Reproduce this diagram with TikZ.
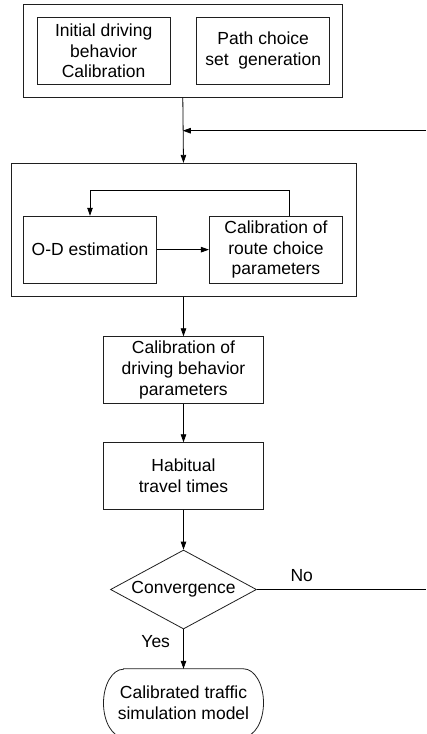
\documentclass[tikz,border=0pt]{standalone}
\usepackage{fontspec}
\setmainfont{Liberation Sans}
\usetikzlibrary{arrows.meta,shapes.geometric,calc}

\begin{document}
\begin{tikzpicture}[x=1pt,y=-1pt,
  every node/.style={font=\fontsize{17.5}{20.8}\selectfont},
  line/.style={draw=black!88, line width=0.8pt},
  box/.style={line, inner sep=0pt, align=center},
  sbox/.style={box, minimum width=133.3pt, minimum height=67pt},
  pbox/.style={box, minimum width=159.3pt, minimum height=66.6pt},
  arr/.style={line width=0.8pt, draw=black, -{Triangle[length=8pt,width=5.5pt]}},
  lbl/.style={inner sep=0pt}
]
\useasboundingbox (0,0) rectangle (426,734);

% preparation stage
\node[box, minimum width=319pt, minimum height=93.3pt] (top) at (182.8,50.65) {};
\node[sbox] (init) at (103.65,50.8) {Initial driving\\behavior\\Calibration};
\node[sbox] (path) at (263.2,50.8) {Path choice\\set\ \ generation};

% demand / route choice loop
\node[box, minimum width=345pt, minimum height=133.4pt] (loop) at (183.5,230) {};
\node[sbox] (od) at (90,249.65) {O-D estimation};
\node[sbox] (rc) at (276,249.65) {Calibration of\\route choice\\parameters};

% driving behaviour and travel times
\node[pbox] (drv) at (183.5,370) {Calibration of\\driving behavior\\parameters};
\node[pbox] (hab) at (183.5,476) {Habitual\\travel times};

% convergence test
\node[shape=diamond, line, inner sep=0pt, aspect=1.85,
      minimum width=146pt, minimum height=79pt] (dia) at (183.5,589.5) {Convergence};

% final model (rounded terminal)
\node[inner sep=0pt, align=center, minimum width=159.6pt, minimum height=68pt]
  (term) at (183.5,703) {Calibrated traffic\\simulation model};
\draw[line] ([xshift=20pt]term.north west) -- ([xshift=-20pt]term.north east)
  arc[start angle=90, end angle=-90, x radius=20pt, y radius=34pt]
  -- ([xshift=20pt]term.south west)
  arc[start angle=270, end angle=90, x radius=20pt, y radius=34pt] -- cycle;

% connectors
\draw[arr] (top.south) -- (loop.north);
\coordinate (fb) at (426,130.7);
\draw[arr] (fb) -- (fb -| top.south);

\draw[arr] (od.east) -- (rc.west);
\coordinate (lp) at (289.3,190);
\draw[arr] (lp |- rc.north) -- (lp) -| (od.north);

\draw[arr] (loop.south) -- (drv.north);
\draw[arr] (drv.south) -- (hab.north);
\draw[arr] (hab.south) -- (dia.north);
\draw[arr] (dia.south) -- (term.north);

\coordinate (no) at (426,589.5);
\draw[line width=0.8pt] (dia.east) -- (no);
\node[lbl] (nolbl) at (301.7,576) {No};
\node[lbl] (yeslbl) at (155.7,642) {Yes};
\end{tikzpicture}
\end{document}
